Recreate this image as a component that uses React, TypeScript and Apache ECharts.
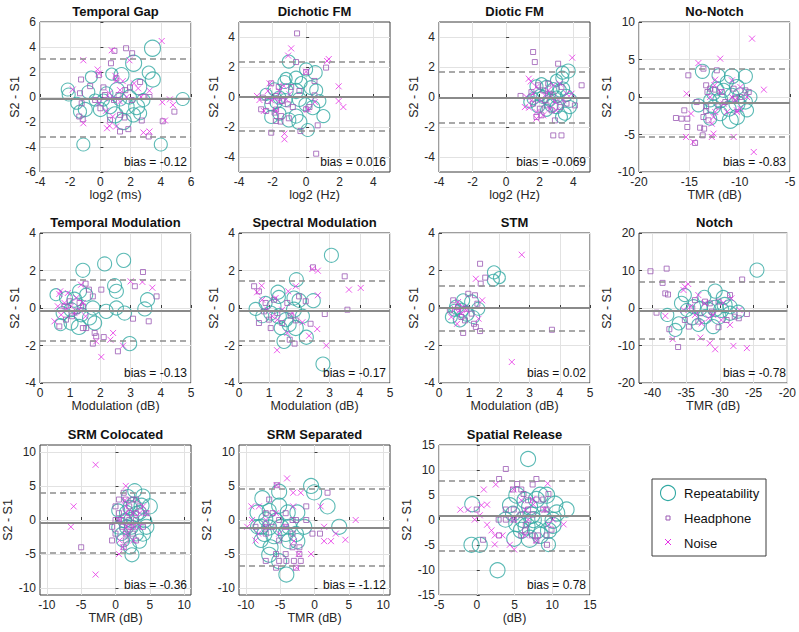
import React, { useEffect, useRef } from "react";
import * as echarts from "echarts";

const FONT = '"Liberation Sans", Arial, Helvetica, sans-serif';
const TEAL = "#32a9a3";
const PURPLE = "#9b5ab4";
const MAGENTA = "#e632e6";

// ---------- panel meta ----------
const titles = [
  "Temporal Gap", "Dichotic FM", "Diotic FM", "No-Notch",
  "Temporal Modulation", "Spectral Modulation", "STM", "Notch",
  "SRM Colocated", "SRM Separated", "Spatial Release",
];
const xNames = [
  "log2 (ms)", "log2 (Hz)", "log2 (Hz)", "TMR (dB)",
  "Modulation (dB)", "Modulation (dB)", "Modulation (dB)", "TMR (dB)",
  "TMR (dB)", "TMR (dB)", "(dB)",
];
const biasValues = [-0.12, 0.016, -0.069, -0.83, -0.13, -0.17, 0.02, -0.78, -0.36, -1.12, 0.78];
const biasLabels = [
  "bias = -0.12", "bias = 0.016", "bias = -0.069", "bias = -0.83",
  "bias = -0.13", "bias = -0.17", "bias = 0.02", "bias = -0.78",
  "bias = -0.36", "bias = -1.12", "bias = 0.78",
];
const upperLoA = [3.05, 2.33, 1.67, 3.78, 1.51, 1.46, 1.21, 6.9, 4.05, 4.54, 7.84];
const lowerLoA = [-3.2, -2.27, -1.71, -5.24, -1.72, -1.74, -1.23, -8.2, -4.83, -6.78, -6.23];
const xMins = [-4, -4, -4, -20, 0, 0, 0, -42, -11, -11, -5];
const xMaxs = [6, 5, 5, -5, 5, 5, 5, -20, 11, 11, 15];
const yMins = [-6, -5, -5, -10, -4, -4, -4, -20, -11, -11, -15];
const yMaxs = [6, 5, 5, 10, 4, 4, 4, 20, 11, 11, 15];
const xTicks = [
  [-4, -2, 0, 2, 4, 6], [-4, -2, 0, 2, 4], [-4, -2, 0, 2, 4], [-20, -15, -10, -5],
  [0, 1, 2, 3, 4, 5], [0, 1, 2, 3, 4, 5], [0, 1, 2, 3, 4, 5], [-40, -35, -30, -25, -20],
  [-10, -5, 0, 5, 10], [-10, -5, 0, 5, 10], [-5, 0, 5, 10, 15],
];
const yTicks = [
  [-6, -4, -2, 0, 2, 4, 6], [-4, -2, 0, 2, 4], [-4, -2, 0, 2, 4], [-10, -5, 0, 5, 10],
  [-4, -2, 0, 2, 4], [-4, -2, 0, 2, 4], [-4, -2, 0, 2, 4], [-20, -10, 0, 10, 20],
  [-10, -5, 0, 5, 10], [-10, -5, 0, 5, 10], [-15, -10, -5, 0, 5, 10, 15],
];
const legendNames = ["Repeatability", "Headphone", "Noise"];

// ---------- data: [x, y, size] for repeatability, [x, y] otherwise ----------
const tgRep = [[3.45,3.9,16],[2.2,2.7,16],[-2.16,0.6,13],[-2.1,0.2,13],[2.54,0.82,16],[3.47,1.4,15],[3.2,1.95,13],[0.75,1.83,12],[1.4,1.75,15],[-0.6,1.6,12],[5.45,-0.16,13],[-1.13,-3.8,13],[4.0,-3.8,13],[-0.8,0.4,13],[-1.35,-1.17,13],[-1.0,-1.0,14],[0,-1.0,14],[0.4,0.3,13],[1.1,0.55,15],[0.64,-0.77,14],[0.97,-1.43,16],[1.52,-1.96,16],[2.19,-1.43,14],[1.74,-0.77,15],[2.4,-0.77,16],[2.85,-0.24,13],[1.92,0,14],[1.3,-0.2,13],[0.2,-0.24,12],[-0.35,-0.24,12],[2.63,-1.3,13],[-1.57,-0.5,12]];
const tgHead = [[0.93,3.69],[1.7,3.9],[2.1,3.5],[0.7,2.7],[-1.28,1.4],[-0.1,1.75],[1.06,1.5],[2.63,1.2],[1.96,0.77],[1.65,0.55],[-0.68,0.87],[-1.35,0.3],[-0.35,-0.24],[-1.24,-0.5],[0,-0.9],[0.3,0.16],[1.2,0.16],[2.85,0],[3.25,0],[-1.4,-1.56],[-1.17,-1.78],[0.64,-1.83],[1.3,-1.43],[1.6,-1.64],[2.74,-1.88],[1.3,-2.76],[1.85,-2.57],[3.2,-3.16],[4.13,-1.94],[4.9,-1.17],[2.07,-0.24],[0.2,0.77],[0.9,-0.24]];
const tgNoise = [[4.06,4.48],[0.75,3.74],[1.92,2.94],[-1.13,2.94],[-0.18,2.2],[-0.09,1.88],[1.0,1.67],[1.04,1.3],[1.48,1.27],[-1.83,0.6],[2.5,0.69],[2.23,1.09],[1.3,0.55],[0.6,0.3],[0.64,-0.1],[2.7,0],[3.25,0.5],[4.1,-0.42],[4.6,-0.19],[4.8,-0.64],[-0.1,-0.5],[0.38,-1.1],[0.82,-1.56],[-1.13,-2.1],[0.6,-2.3],[1.04,-2.36],[0.44,-2.5],[2.85,-2.84],[3.25,-2.76],[4.28,-1.88],[1.74,0],[1.3,-0.37]];

const dfmRep = [[-1.03,2.36,13],[0,1.84,13],[0.54,1.62,14],[-1.29,1.0,13],[-1.19,1.24,12],[-0.6,1.29,13],[-0.3,0.96,12],[-1.88,0.51,13],[-2.38,0.18,12],[-1.59,-0.04,13],[-2.08,-0.49,13],[-1.79,-0.38,12],[-1.19,0.4,14],[-0.6,0.4,15],[0.3,0.62,14],[0.6,0.44,13],[0.79,-0.27,13],[0.4,-0.71,14],[-0.04,-0.49,13],[-0.4,-0.16,14],[-2.08,-1.33,13],[-1.59,-1.11,13],[-0.6,-1.27,14],[-1.03,-1.53,14],[-0.4,-1.67,15],[1.03,-1.27,13],[0.1,-2.2,13],[-1.23,-0.2,13]];
const dfmHead = [[-0.54,4.24],[-0.6,2.33],[1.19,1.96],[0,1.67],[0.5,1.07],[-2.08,0.91],[-1.63,0.67],[-0.89,0.67],[-0.4,0.4],[-2.58,-0.04],[-2.28,-0.27],[-1.79,0.07],[-1.43,-0.27],[-1.09,-0.49],[-2.68,-0.82],[-2.38,-0.93],[-1.88,-1.04],[-1.49,-1.27],[-1.03,-1.42],[-0.79,-0.67],[0,-0.82],[0.2,-0.67],[0.5,0.11],[-1.53,-1.64],[-1.79,-1.6],[-2.08,-2.38],[-0.34,-2.27],[0.69,-1.89],[0.6,-3.78],[-1.79,-0.84]];
const dfmNoise = [[-0.89,3.24],[-1.07,2.76],[1.35,2.53],[1.25,2.4],[0,1.69],[-2.18,0.91],[-2.93,0.07],[-2.78,-0.2],[-2.28,0.4],[-1.88,-0.09],[-1.59,-0.31],[-1.19,-0.16],[-2.52,-0.93],[-1.79,-0.93],[-1.33,0.73],[1.94,0.71],[1.94,-0.27],[2.22,-0.67],[0.1,-0.82],[0.52,-0.33],[-1.29,-2.44],[-1.29,-2.82],[-2.08,-0.22],[-0.99,0.18],[-1.59,0.4]];

const difmRep = [[3.7,1.73,14],[3.37,1.62,13],[3.35,1.29,13],[3.0,1.11,12],[1.81,0.71,13],[2.11,0.89,12],[2.41,0.67,13],[2.81,0.56,12],[3.4,0.56,13],[3.6,0.11,12],[3.8,-0.22,14],[3.8,-0.67,13],[3.5,-1.11,13],[3.3,-1.33,12],[3.0,-0.67,13],[2.6,-0.22,12],[2.21,0,13],[1.61,-0.11,12],[1.41,-0.33,12],[1.91,-0.62,13],[2.41,-0.89,12],[2.71,-0.56,13],[3.0,0,12],[3.2,0.44,13],[2.01,0.11,12]];
const difmHead = [[1.61,3.0],[1.71,2.33],[3.1,2.22],[4.5,0.78],[0.86,0.07],[4.1,-0.56],[2.81,-2.56],[3.3,-2.56],[1.91,0.78],[2.21,0.44],[2.61,0.22],[3.0,-0.22],[2.41,-0.56],[2.01,-0.78],[2.71,-0.89],[3.2,-0.67],[1.61,-0.44],[2.11,-1.22],[1.81,-1.33],[2.91,-1.56],[1.51,0.33],[2.51,0.89],[3.3,0.67],[3.6,-0.44],[2.31,-0.22],[2.81,0.11]];
const difmNoise = [[3.94,2.62],[1.35,1.22],[1.47,1.04],[1.81,0.67],[1.21,0],[1.51,-0.22],[1.12,-0.67],[1.37,-0.71],[1.81,-1.0],[1.81,-1.44],[2.21,-1.22],[2.51,0.44],[2.81,0.78],[3.2,0.89],[3.6,0.22],[3.9,0.22],[3.4,-0.22],[3.0,-0.89],[2.61,-0.78],[2.01,-0.22],[1.61,0.22],[2.31,0.11],[2.91,-0.33]];

const nnRep = [[-13.7,3.42,14],[-12.1,2.89,13],[-10.77,2.76,15],[-9.43,2.76,14],[-11.27,2.0,13],[-10.27,1.33,15],[-11.6,0.89,14],[-12.6,0.44,13],[-8.93,0,13],[-9.93,0.22,15],[-10.77,0.22,14],[-11.93,-0.44,15],[-12.93,-0.44,13],[-14.1,-1.11,13],[-12.6,-1.33,14],[-11.1,-1.56,15],[-10.27,-0.89,16],[-9.43,-0.67,14],[-11.93,-2.22,14],[-10.93,-3.11,16],[-10.27,-2.67,15],[-12.93,-2.89,13],[-9.27,-1.78,13],[-12.27,1.11,13]];
const nnHead = [[-15.1,2.89],[-13.6,3.78],[-12.27,3.56],[-13.33,1.56],[-12.93,1.11],[-12.43,0.98],[-13.2,0.67],[-14.27,-0.67],[-13.33,-1.24],[-13.33,-1.87],[-13.6,-2.67],[-13.1,-3.11],[-15.5,-1.78],[-15.2,-2.89],[-16.33,-2.8],[-15.77,-2.89],[-15.2,-4.0],[-13.93,-4.09],[-13.53,-4.22],[-13.67,-5.11],[-14.43,-6.13],[-9.43,0.89],[-9.1,0.67],[-10.6,1.11],[-11.77,0.67],[-9.93,0],[-11.43,-0.67],[-10.5,-0.22],[-12.1,-1.24]];
const nnNoise = [[-8.77,7.78],[-14.1,4.53],[-11.93,5.11],[-12.43,2.31],[-12.5,1.56],[-10.77,2.22],[-15.27,0.44],[-9.93,1.33],[-7.6,0.98],[-10.43,-0.36],[-10.77,0],[-9.27,0],[-12.43,-2.0],[-12.6,-2.67],[-12.77,-3.56],[-12.6,-4.89],[-12.77,-5.33],[-10.6,-5.33],[-15.33,-5.33],[-14.83,-2.22],[-14.6,-6.0],[-8.6,-7.33],[-10.27,-1.78],[-11.27,-2.0],[-12.93,0],[-11.93,0.67],[-11.6,-0.89],[-10.27,-2.0],[-9.93,-1.56]];

const tmRep = [[1.42,2.01,14],[2.14,2.35,14],[2.77,2.54,14],[0.53,0.71,12],[1.31,0.89,14],[2.47,1.19,14],[2.53,0.89,14],[1.14,0.44,15],[0.86,0.53,13],[1.53,0.71,13],[1.75,0,14],[2.19,-0.18,14],[2.53,0,14],[2.8,-0.27,14],[3.56,0.44,14],[3.47,-0.05,14],[2.97,-1.9,14],[0.68,-0.89,12],[1.03,-0.8,14],[1.29,-1.01,15],[1.64,-0.53,14],[1.81,-0.8,14],[0.75,-0.27,13],[1.03,-0.09,14],[1.36,-0.36,14],[1.2,0.09,15]];
const tmHead = [[3.41,1.92],[3.14,1.16],[3.86,0.62],[1.62,0.98],[2.03,0.98],[1.51,1.3],[1.75,0.62],[3.08,-0.57],[3.6,-0.71],[1.81,-1.33],[1.86,-1.51],[1.75,-1.9],[2.11,-1.55],[2.58,-2.31],[1.42,-1.07],[1.53,-1.07],[1.06,-0.44],[0.81,0.09],[1.31,0.27],[0.86,-0.62],[0.64,-0.98],[1.22,-0.18],[1.42,0.09],[0.98,0.36]];
const tmNoise = [[1.36,1.24],[0.67,0.89],[0.64,0.75],[3.0,1.42],[3.39,1.39],[3.72,1.08],[2.42,-1.33],[2.33,-1.69],[1.86,-1.78],[2.75,-2.01],[2.03,-2.61],[0.48,-0.71],[0.7,-0.36],[0.86,-0.09],[1.03,0.09],[1.14,-0.27],[1.31,-0.09],[1.51,-0.44],[0.81,0.27],[1.2,0.53],[0.92,0.8],[1.42,0.27],[0.59,0.09]];

const smRep = [[3.06,2.81,14],[1.9,1.51,14],[1.29,0.84,14],[1.32,0.59,13],[1.82,0.53,14],[1.99,0.41,14],[2.46,0.39,14],[0.55,-0.05,13],[0.77,-0.44,13],[1.05,-0.27,14],[1.32,-0.44,15],[1.55,-0.62,14],[1.82,-0.09,15],[1.66,-0.89,14],[1.88,-1.07,15],[1.49,-1.78,14],[2.23,-1.56,14],[2.78,-2.99,14],[1.16,0.09,14],[0.88,0.27,13],[2.1,-0.44,14],[1.38,-1.07,13]];
const smHead = [[3.5,1.69],[2.45,2.17],[0.5,1.16],[0.66,0.89],[0.88,0.27],[0.66,-0.8],[1.05,-1.07],[1.68,-1.69],[1.84,-1.9],[2.37,-0.84],[2.84,-0.32],[3.59,-0.09],[2.21,0.36],[1.99,0.62],[1.6,0.27],[1.27,-0.27],[1.43,-0.8],[0.99,-0.62],[0.83,-0.18],[1.16,0.44],[1.71,-0.41],[1.88,-0.66]];
const smNoise = [[2.43,2.08],[2.61,1.99],[1.88,1.16],[0.75,1.19],[0.6,0.84],[1.21,0.53],[1.63,0.89],[2.61,0.68],[3.64,0.98],[4.03,1.07],[2.1,-0.76],[2.32,-1.48],[2.59,-1.12],[2.89,-2.0],[1.26,-2.25],[1.6,-1.33],[0.94,-0.09],[1.1,-0.44],[1.43,-0.09],[0.77,0.44],[1.27,-0.62],[1.77,-0.27]];

const stmRep = [[1.82,1.9,13],[2.0,1.62,12],[1.8,1.48,12],[0.41,-0.48,12],[0.58,0.05,14],[0.8,0.41,13],[1.08,0.32,14],[0.91,-0.3,15],[0.69,-0.66,13],[1.13,-0.48,13],[0.52,-0.12,12],[1.3,-0.04,13],[0.74,-0.12,14]];
const stmHead = [[1.36,2.36],[1.38,1.3],[1.53,1.62],[3.74,-1.16],[1.36,-1.23],[0.8,-1.33],[1.22,-1.01],[1.16,-0.84],[0.97,0.76],[1.19,0.68],[0.47,0.41],[0.36,-0.12],[0.63,0.05],[0.91,-0.04],[1.08,-0.3],[0.74,-0.48],[1.27,0.23],[0.86,-0.66]];
const stmNoise = [[2.74,2.84],[1.22,1.56],[1.43,0.41],[1.31,-0.57],[2.41,-2.88],[0.6,-0.84],[0.41,-0.48],[0.52,-0.04],[0.69,-0.12],[0.8,0.05],[0.63,0.32],[0.91,-0.12],[0.74,-0.3]];

const nRep = [[-24.5,10.1,14],[-30.7,4.5,14],[-29.5,2.8,14],[-32.3,3.0,13],[-35.2,3.45,13],[-35.7,1.24,14],[-34.9,-0.53,13],[-33.9,0.35,14],[-32.9,-0.09,14],[-31.7,-0.53,15],[-30.7,-0.09,16],[-29.8,-0.53,15],[-28.5,0.35,14],[-28.5,-1.4,14],[-30.2,-2.3,15],[-32.2,-2.3,14],[-31.0,-4.96,14],[-33.2,-4.5,13],[-36.1,-4.1,13],[-36.6,-5.84,13],[-37.8,-1.86,13],[-34.1,-2.74,13],[-29.3,0.8,15],[-27.3,-0.97,13]];
const nHead = [[-40.3,9.8],[-37.9,10.5],[-38.5,6.7],[-38.1,3.9],[-37.7,3.6],[-39.4,-1.24],[-26.7,7.6],[-26.0,-1.6],[-27.2,-2.74],[-36.2,-10.4],[-37.5,-5.66],[-35.2,-3.2],[-33.7,2.1],[-32.9,-1.4],[-32.2,1.7],[-31.2,-0.97],[-31.5,1.24],[-30.2,1.7],[-29.0,-3.2],[-27.8,-2.3],[-34.6,-4.96],[-33.2,-3.63],[-34.1,-0.09],[-28.5,3.45],[-30.2,-5.13]];
const nNoise = [[-34.7,6.4],[-35.2,5.7],[-35.4,4.8],[-38.1,-2.1],[-37.0,-8.3],[-32.9,-7.9],[-31.5,-9.4],[-30.7,-11.0],[-28.0,-10.1],[-26.0,-10.7],[-28.3,2.57],[-33.2,3.45],[-32.3,1.24],[-34.4,0.35],[-33.7,-1.86],[-31.7,-2.74],[-31.0,-1.86],[-29.8,-3.2],[-28.5,-4.5],[-27.1,-0.53],[-32.7,-4.1],[-35.4,-0.53],[-29.5,1.4]];

const colRep = [[2.8,4.3,14],[1.85,3.5,13],[4.0,3.5,14],[0.4,1.4,13],[2.6,2.3,14],[3.8,2.1,15],[5.0,2.0,15],[1.6,1.1,14],[3.05,0.9,15],[4.25,-0.1,14],[4.5,-1.0,15],[4.0,-2.0,15],[3.5,-3.1,14],[2.4,-5.1,14],[2.1,-4.0,13],[1.1,-3.0,13],[0.4,-1.1,13],[1.35,-0.1,14],[2.3,-1.05,14],[3.05,-2.05,14],[0.9,-2.05,13],[1.6,-1.05,14],[2.3,0,15],[3.5,1.1,14],[2.1,1.85,14]];
const colHead = [[-5,-4],[1.2,4],[0.5,3],[1.5,3],[2.5,3],[3,3],[0,2],[2,2],[3.5,2],[4.5,1],[0.5,1],[2,1],[3,1],[0,0],[0.5,0],[1,0],[2,0],[3,0],[-0.5,-1],[1,-1],[2,-1],[2.5,-1],[4,-1],[0,-2],[1.5,-2],[2.5,-2],[-0.5,-3],[1.5,-3],[3,-3],[1.2,-4]];
const colNoise = [[-2.9,8.1],[-6.1,2.0],[-6.5,-1.0],[-2.9,-8.0],[1.5,5.0],[0.5,-5.0],[1.1,-4.0],[1.4,2.9],[1.5,1.0],[2.6,1.0],[3.5,1.0],[4.5,1.0],[1.6,-1.0],[2.6,-1.0],[3.5,-1.0],[0.6,-3.0],[2.6,-3.0],[4.0,2.0],[1.5,2.0],[0.6,0],[1.6,-2.0]];

const sepRep = [[-0.5,5.0,15],[-0.05,4.05,15],[-5.15,4.15,15],[1.9,2.0,15],[-7.6,3.2,15],[-8.3,1.1,15],[-6.6,1.4,14],[-5.15,2.1,15],[-3.9,1.1,15],[-2.5,1.1,15],[-7.1,0.15,14],[-5.6,-0.1,15],[-7.8,-1.0,15],[-6.6,-1.1,15],[-4.9,-1.1,16],[-3.7,-1.0,15],[-1.5,-1.0,15],[3.6,-1.0,15],[-7.3,-2.05,15],[-5.9,-2.3,16],[-4.2,-2.05,15],[-2.7,-2.05,15],[-7.8,-3.0,14],[-2.5,-3.1,15],[-3.7,-3.1,15],[-6.4,-4.0,15],[-6.6,-5.1,15],[-5.15,-6.05,15],[-4.1,-8.0,15],[-8.3,-1.0,14]];
const sepHead = [[-5.5,5.1],[-6.6,3.0],[1.9,4.0],[-1.2,2.0],[-1.2,0],[-2.7,0],[-7.1,1.0],[-6.1,1.0],[-5.15,0],[-7.1,-1.0],[-4.2,-1.0],[-3.2,-2.0],[-0.3,-2.0],[0.8,-2.0],[-7.1,-2.0],[-5.15,-3.0],[-3.2,-4.0],[-2.2,-4.0],[-4.2,-5.0],[-2.2,-5.0],[-5.6,-5.0],[-5.15,-6.0],[-4.1,-6.0],[-3.0,-6.0],[-2.0,-6.0],[-7.1,-6.0],[-5.6,-7.0],[-2.7,-7.0],[-8.6,-1.0],[-4.2,1.0],[-6.1,-1.0],[-3.2,0]];
const sepNoise = [[-4.0,6.1],[-3.1,4.0],[-2.0,4.0],[0.9,2.0],[-9.2,2.0],[-8.1,2.0],[-9.1,0],[-9.8,-1.0],[-8.2,-2.0],[-8.6,-3.0],[1.4,-1.0],[1.4,-3.1],[2.4,-3.1],[3.1,-2.0],[4.5,-2.9],[6.0,0],[-0.5,-5.0],[-2.3,-5.0],[-2.6,-7.0],[-5.5,5.1],[-7.1,0],[-5.6,1.0],[-3.1,2.0],[-4.2,-1.0],[-3.0,-3.1],[-5.15,-2.0],[-7.1,-1.0]];

const sprRep = [[6.8,12.2,15],[2.75,-10.05,15],[-0.6,3.15,15],[-0.7,-4.96,15],[0.4,-4.96,15],[4.96,-3.75,15],[4.4,2.95,15],[3.8,0.07,15],[5.3,4.96,16],[6.4,3.95,16],[7.0,2.6,16],[7.9,4.1,16],[8.4,4.96,16],[9.25,4.96,16],[10.35,3.15,16],[11.9,2.1,15],[10.6,1.4,16],[8.8,0.27,17],[10.1,-0.07,16],[7.5,0.07,16],[6.15,0.07,16],[5.3,-0.74,16],[6.6,-1.27,17],[7.9,-2.08,17],[9.5,-2.08,16],[5.9,-2.08,16],[7.0,-3.75,17],[8.4,-3.08,16],[9.5,-4.9,14],[10.1,-1.07,16],[4.8,1.27,15],[7.3,0.94,16]];
const sprHead = [[3.85,10.2],[2.96,8.2],[7.9,8.2],[7.4,7.1],[5.35,7.2],[4.8,6.1],[5.9,6.1],[9.5,5.2],[6.2,5.2],[8.8,4.1],[7.9,4.1],[6.8,3.95],[3.85,2.1],[4.9,2.1],[0,2.1],[2.9,0.07],[3.85,0.07],[4.9,0.07],[5.8,1.07],[7.4,1.07],[6.8,2.1],[8.8,2.1],[6.5,-0.94],[6.4,-2.08],[7.3,-3.08],[8.1,-3.08],[9.25,-3.08],[9.9,-1.94],[7.9,-4.1],[9.3,-4.96],[0.84,-3.95],[2.96,-3.08],[5.9,-3.08],[9.25,2.1]];
const sprNoise = [[-2.17,2.08],[-1.15,2.08],[0.62,2.95],[0.93,6.1],[1.37,3.08],[2.52,7.1],[-0.27,0.07],[0.4,0.94],[1.37,-0.94],[1.95,-2.08],[2.39,-3.08],[3.41,-3.08],[2.39,-4.89],[4.38,-4.96],[4.96,-5.9],[4.9,6.1],[5.9,3.95],[6.4,2.08],[7.4,4.1],[7.5,3.08],[9.4,7.3],[9.5,-0.87],[11.5,-0.87],[7.9,-4.1],[6.4,-3.08],[4.9,0.07],[6.8,0.07],[10.1,0.07],[9.0,2.08]];

const repSets = [tgRep, dfmRep, difmRep, nnRep, tmRep, smRep, stmRep, nRep, colRep, sepRep, sprRep];
const headSets = [tgHead, dfmHead, difmHead, nnHead, tmHead, smHead, stmHead, nHead, colHead, sepHead, sprHead];
const noiseSets = [tgNoise, dfmNoise, difmNoise, nnNoise, tmNoise, smNoise, stmNoise, nNoise, colNoise, sepNoise, sprNoise];

// ---------- layout ----------
const COL_LEFT = [40, 239, 439, 639];
const ROW_TOP = [22, 233, 445];
const GW = 151;
const GH = 150;
const Y_NAME_GAP = [19, 19, 19, 13, 19, 19, 19, 19, 19, 19, 19];

const CROSS = "path://M0,0L10,10M10,0L0,10";

function buildOption() {
  const grid: any[] = [];
  const xAxis: any[] = [];
  const yAxis: any[] = [];
  const series: any[] = [];
  const graphic: any[] = [];

  titles.forEach((t, i) => {
    const col = i % 4;
    const row = Math.floor(i / 4);
    const left = COL_LEFT[col];
    const top = ROW_TOP[row];
    grid.push({
      left, top, width: GW, height: GH, show: true,
      borderColor: "#3c3c3c", borderWidth: 1, backgroundColor: "rgba(0,0,0,0)",
    });
    const axisCommon = {
      type: "value",
      gridIndex: i,
      axisLine: { show: false },
      nameLocation: "middle",
      nameTextStyle: { fontSize: 12.5, color: "#262626", fontFamily: FONT },
    };
    xAxis.push({
      ...axisCommon,
      min: xMins[i], max: xMaxs[i],
      name: xNames[i], nameGap: 14,
      axisTick: { show: true, inside: true, length: 3, lineStyle: { color: "#3c3c3c" }, customValues: xTicks[i] },
      axisLabel: { customValues: xTicks[i], fontSize: 12, color: "#262626", fontFamily: FONT, margin: 4 },
      splitLine: { show: true, lineStyle: { color: "#e2e2e2", width: 1 } },
    });
    yAxis.push({
      ...axisCommon,
      min: yMins[i], max: yMaxs[i],
      name: "S2 - S1", nameGap: Y_NAME_GAP[i],
      axisTick: { show: true, inside: true, length: 3, lineStyle: { color: "#3c3c3c" }, customValues: yTicks[i] },
      axisLabel: { customValues: yTicks[i], fontSize: 12, color: "#262626", fontFamily: FONT, margin: 4 },
      splitLine: { show: true, lineStyle: { color: "#e2e2e2", width: 1 } },
    });
    series.push({
      type: "scatter", name: legendNames[0], xAxisIndex: i, yAxisIndex: i,
      data: repSets[i], symbol: "circle",
      symbolSize: (v: number[]) => v[2],
      itemStyle: { color: "rgba(0,0,0,0)", borderColor: TEAL, borderWidth: 1.1 },
      markLine: {
        silent: true, symbol: "none", label: { show: false }, animation: false,
        data: [
          { yAxis: biasValues[i], lineStyle: { type: "solid", width: 2, color: "#8a8a8a" } },
          { yAxis: upperLoA[i], lineStyle: { type: [6, 4], width: 1.5, color: "#8d8d8d" } },
          { yAxis: lowerLoA[i], lineStyle: { type: [6, 4], width: 1.5, color: "#8d8d8d" } },
        ],
      },
    });
    series.push({
      type: "scatter", name: legendNames[1], xAxisIndex: i, yAxisIndex: i,
      data: headSets[i], symbol: "rect", symbolSize: 5,
      itemStyle: { color: "rgba(0,0,0,0)", borderColor: PURPLE, borderWidth: 1 },
    });
    series.push({
      type: "scatter", name: legendNames[2], xAxisIndex: i, yAxisIndex: i,
      data: noiseSets[i], symbol: CROSS, symbolSize: 6,
      itemStyle: { color: "rgba(0,0,0,0)", borderColor: MAGENTA, borderWidth: 1 },
    });
    graphic.push({
      type: "text", x: left + GW / 2, y: top - 11, silent: true,
      style: { text: t, fill: "#111", fontSize: 13, fontWeight: "bold", fontFamily: FONT, align: "center", verticalAlign: "middle" },
    });
    graphic.push({
      type: "text", x: left + GW - 4, y: top + GH - 10, silent: true, z: 10,
      style: { text: biasLabels[i], fill: "#111", fontSize: 12, fontFamily: FONT, align: "right", verticalAlign: "middle" },
    });
  });

  // legend box
  const lx = 652, ly = 479;
  graphic.push({ type: "rect", silent: true, shape: { x: lx, y: ly, width: 114, height: 77 }, style: { fill: "#fff", stroke: "#3c3c3c", lineWidth: 1 } });
  graphic.push({ type: "circle", silent: true, shape: { cx: lx + 16, cy: ly + 14, r: 7.5 }, style: { fill: "none", stroke: TEAL, lineWidth: 1.1 } });
  graphic.push({ type: "rect", silent: true, shape: { x: lx + 14, y: ly + 37, width: 4, height: 4 }, style: { fill: "none", stroke: PURPLE, lineWidth: 1 } });
  graphic.push({ type: "line", silent: true, shape: { x1: lx + 13, y1: ly + 60, x2: lx + 19, y2: ly + 66 }, style: { stroke: MAGENTA, lineWidth: 1 } });
  graphic.push({ type: "line", silent: true, shape: { x1: lx + 19, y1: ly + 60, x2: lx + 13, y2: ly + 66 }, style: { stroke: MAGENTA, lineWidth: 1 } });
  legendNames.forEach((n, k) => {
    graphic.push({
      type: "text", silent: true, x: lx + 32, y: ly + 14 + k * 25,
      style: { text: n, fill: "#111", fontSize: 13, fontFamily: FONT, align: "left", verticalAlign: "middle" },
    });
  });

  return {
    animation: false,
    backgroundColor: "#ffffff",
    textStyle: { fontFamily: FONT },
    grid, xAxis, yAxis, series, graphic,
  };
}

export default function App() {
  const ref = useRef<HTMLDivElement>(null);
  useEffect(() => {
    if (!ref.current) return;
    const chart = echarts.init(ref.current, undefined, { renderer: "svg" });
    chart.setOption(buildOption() as any);
    return () => chart.dispose();
  }, []);
  return (
    <div
      ref={ref}
      style={{ position: "absolute", left: 0, top: 0, width: 799, height: 632 }}
    />
  );
}
